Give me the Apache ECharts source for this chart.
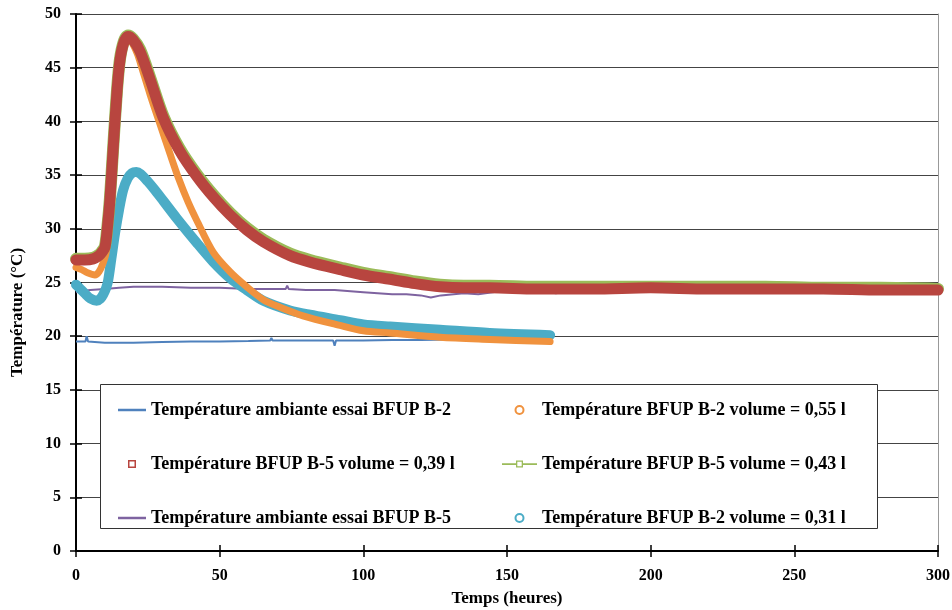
<!DOCTYPE html>
<html>
<head>
<meta charset="utf-8">
<script src="https://cdn.jsdelivr.net/npm/echarts@6/dist/echarts.min.js"></script>
<style>
html, body { margin: 0; padding: 0; background: #fff; }
#chart { width: 952px; height: 610px; }
</style>
</head>
<body>
<div id="chart"></div>
<script>
// données (temps en heures, température en °C)
var ambB2Time = [0, 3.3, 3.7, 4.2, 10, 20, 30, 40, 50, 60, 67.6, 68, 68.4, 80, 89.5, 90, 90.5, 100, 110, 120, 130, 140, 150, 165];
var ambB2Temp = [19.5, 19.5, 20.0, 19.5, 19.4, 19.4, 19.45, 19.5, 19.5, 19.55, 19.6, 19.85, 19.6, 19.6, 19.6, 19.1, 19.6, 19.6, 19.65, 19.65, 19.7, 19.7, 19.7, 19.7];

var ambB5Time = [0, 2, 5, 10, 15, 20, 30, 40, 50, 60, 70, 73, 73.5, 74, 80, 90, 100, 105, 110, 115, 120, 123.5, 127, 135, 140, 145, 151, 160, 167, 175, 190, 210, 230, 244, 255, 270, 290, 300];
var ambB5Temp = [24.1, 24.2, 24.3, 24.4, 24.5, 24.6, 24.6, 24.5, 24.5, 24.4, 24.4, 24.4, 24.7, 24.4, 24.3, 24.3, 24.1, 24.0, 23.9, 23.9, 23.8, 23.6, 23.8, 24.0, 23.9, 24.1, 24.3, 24.3, 24.0, 24.3, 24.4, 24.4, 24.3, 24.1, 24.4, 24.4, 24.1, 24.3];

var b2v055Time = [0, 2, 4, 6.6, 8, 9.4, 10.5, 11.3, 12.2, 13.2, 14.3, 15.3, 16.7, 18.1, 19.8, 21.5, 22.9, 25.8, 29.3, 32.7, 35.7, 39, 42, 47.8, 53.6, 59.4, 65.2, 71, 79, 91.9, 100, 109.3, 126.7, 144, 165];
var b2v055Temp = [26.4, 26.2, 25.9, 25.7, 26.0, 26.8, 27.8, 30.0, 33.5, 37.5, 42.5, 45.3, 47.2, 47.7, 47.2, 46.2, 45.0, 42.5, 39.7, 37.0, 34.7, 32.5, 30.8, 27.8, 26.0, 24.6, 23.4, 22.7, 21.9, 21.0, 20.5, 20.3, 19.9, 19.7, 19.5];

var b5v039Time = [0, 3, 6, 8, 9, 10.1, 11, 11.8, 12.9, 14.3, 15.3, 16.7, 18.1, 19.8, 22.3, 25.8, 30.4, 36, 42, 48, 53.6, 59.4, 65.2, 74.5, 81.4, 91.9, 100, 109.3, 118, 126.7, 135, 144, 160, 180, 200, 220, 240, 260, 280, 300];
var b5v039Temp = [27.1, 27.1, 27.2, 27.5, 27.8, 28.3, 30.3, 32.7, 37.3, 42.9, 45.7, 47.4, 47.9, 47.6, 46.5, 43.9, 40.3, 37.3, 34.9, 32.9, 31.3, 29.9, 28.8, 27.5, 26.9, 26.2, 25.7, 25.3, 24.9, 24.6, 24.5, 24.5, 24.4, 24.4, 24.5, 24.4, 24.4, 24.4, 24.3, 24.3];

var b5v043Time = [0, 3, 6, 8, 9, 10.1, 11, 11.8, 12.9, 14.3, 15.3, 16.7, 18.1, 19.8, 22.3, 25.8, 30.4, 36, 42, 48, 53.6, 59.4, 65.2, 74.5, 81.4, 91.9, 100, 109.3, 118, 126.7, 135, 144, 160, 180, 200, 220, 240, 260, 280, 300];
var b5v043Temp = [27.2, 27.2, 27.3, 27.6, 27.9, 28.4, 30.4, 32.8, 37.4, 43.0, 45.8, 47.5, 48.0, 47.7, 46.7, 44.1, 40.5, 37.5, 35.1, 33.1, 31.5, 30.1, 29.0, 27.7, 27.1, 26.4, 25.9, 25.5, 25.1, 24.8, 24.7, 24.7, 24.6, 24.6, 24.6, 24.6, 24.6, 24.5, 24.5, 24.4];

var b2v031Time = [0, 1.5, 3, 5, 7.2, 8.5, 9.5, 10.5, 11.2, 12.3, 13.6, 15, 16.4, 18, 19.5, 21, 22.5, 25, 27.5, 30.4, 35, 42, 47.8, 53.6, 59.4, 65.2, 74.5, 81.4, 91.9, 100, 109.3, 126.7, 144, 165];
var b2v031Temp = [24.8, 24.4, 24.0, 23.5, 23.3, 23.5, 23.9, 24.5, 25.2, 27.2, 29.6, 31.8, 33.6, 34.7, 35.2, 35.3, 35.1, 34.4, 33.6, 32.6, 31.0, 28.7, 26.9, 25.4, 24.3, 23.3, 22.4, 22.0, 21.5, 21.1, 20.9, 20.6, 20.3, 20.1];

var xTicks = [0, 50, 100, 150, 200, 250, 300];
var yTicks = [0, 5, 10, 15, 20, 25, 30, 35, 40, 45, 50];

var names = [
    'Température ambiante essai BFUP B-2',
    'Température BFUP B-2 volume = 0,55 l',
    'Température BFUP B-5 volume = 0,39 l',
    'Température BFUP B-5 volume = 0,43 l',
    'Température ambiante essai BFUP B-5',
    'Température BFUP B-2 volume = 0,31 l'
];

function pairs(xs, ys) {
    return xs.map(function (x, i) { return [x, ys[i]]; });
}

var chart = echarts.init(document.getElementById('chart'));
var font = 'Liberation Serif';
var lineIcon = 'path://M0,0h28v2.5h-28z';
var rectIcon = 'path://M0,0h8v8h-8z M1.5,1.5v5h5v-5z';
var lineRectIcon = 'path://M0,3h16v-3h8v3h16v2h-16v3h-8v-3h-16z M17.5,1.5v5h5v-5z';

var legendText = { fontFamily: font, fontWeight: 'bold', fontSize: 18, color: '#000', lineHeight: 18 };

var option = {
    animation: false,
    backgroundColor: '#fff',
    grid: { left: 76, right: 14, top: 14, bottom: 59, outerBoundsMode: 'none' },
    graphic: [{
        type: 'rect', z: 3,
        shape: { x: 100.5, y: 384.5, width: 777, height: 144 },
        style: { fill: '#fff', stroke: '#333', lineWidth: 1 }
    }],
    legend: [{
        orient: 'vertical', left: 113, top: 396, z: 5,
        itemWidth: 28, itemHeight: 8, itemGap: 36,
        selectedMode: false,
        textStyle: legendText,
        data: [
            { name: names[0], icon: lineIcon },
            { name: names[2], icon: rectIcon },
            { name: names[4], icon: lineIcon }
        ]
    }, {
        orient: 'vertical', left: 497, top: 396, z: 5,
        itemWidth: 35, itemHeight: 8, itemGap: 36,
        selectedMode: false,
        textStyle: legendText,
        data: [
            { name: names[1], icon: 'emptyCircle' },
            { name: names[3], icon: lineRectIcon },
            { name: names[5], icon: 'emptyCircle' }
        ]
    }],
    xAxis: [{
        type: 'value', min: 0, max: 300, interval: 50,
        name: 'Temps (heures)', nameLocation: 'middle', nameGap: 39,
        nameTextStyle: { fontFamily: font, fontWeight: 'bold', fontSize: 17, color: '#000' },
        axisLine: { lineStyle: { color: '#000', width: 2 } },
        axisTick: { show: true, length: 6, lineStyle: { color: '#000', width: 1.5 } },
        axisLabel: { fontFamily: font, fontWeight: 'bold', fontSize: 16, color: '#000', margin: 17 },
        splitLine: { show: false }
    }, {
        type: 'value', min: 0, max: 300, interval: 50, position: 'bottom',
        axisLine: { show: false },
        axisTick: { show: true, inside: true, length: 6, lineStyle: { color: '#000', width: 1.5 } },
        axisLabel: { show: false },
        splitLine: { show: false }
    }],
    yAxis: [{
        type: 'value', min: 0, max: 50, interval: 5,
        name: 'Température (°C)', nameLocation: 'middle', nameGap: 50,
        nameTextStyle: { fontFamily: font, fontWeight: 'bold', fontSize: 17, color: '#000', padding: [0, 60, 0, 0] },
        axisLine: { show: true, lineStyle: { color: '#000', width: 2 } },
        axisTick: { show: true, length: 6, lineStyle: { color: '#000', width: 1.5 } },
        axisLabel: { fontFamily: font, fontWeight: 'bold', fontSize: 16, color: '#000', margin: 15 },
        splitLine: { show: true, lineStyle: { color: '#444', width: 1 } }
    }, {
        type: 'value', min: 0, max: 50, interval: 5, position: 'left',
        axisLine: { show: false },
        axisTick: { show: true, inside: true, length: 6, lineStyle: { color: '#000', width: 1.5 } },
        axisLabel: { show: false },
        splitLine: { show: false }
    }, {
        type: 'value', min: 0, max: 50, interval: 5, position: 'right',
        axisLine: { show: true, lineStyle: { color: '#999', width: 1 } },
        axisTick: { show: false },
        axisLabel: { show: false },
        splitLine: { show: false }
    }],
    series: [{
        name: names[0], type: 'line', symbol: 'none',
        data: pairs(ambB2Time, ambB2Temp),
        itemStyle: { color: '#4F81BD' },
        lineStyle: { color: '#4F81BD', width: 2 }
    }, {
        name: names[4], type: 'line', symbol: 'none',
        data: pairs(ambB5Time, ambB5Temp),
        itemStyle: { color: '#7E63A0' },
        lineStyle: { color: '#7E63A0', width: 2 }
    }, {
        name: names[5], type: 'line', symbol: 'none', smooth: 0.3,
        data: pairs(b2v031Time, b2v031Temp),
        itemStyle: { color: '#4BACC6' },
        lineStyle: { color: '#4BACC6', width: 10, cap: 'round', join: 'round' }
    }, {
        name: names[1], type: 'line', symbol: 'none', smooth: 0.3,
        data: pairs(b2v055Time, b2v055Temp),
        itemStyle: { color: '#F0923E' },
        lineStyle: { color: '#F0923E', width: 7, cap: 'round', join: 'round' }
    }, {
        name: names[3], type: 'line', symbol: 'none', smooth: 0.3,
        data: pairs(b5v043Time, b5v043Temp),
        itemStyle: { color: '#9BBB59' },
        lineStyle: { color: '#9BBB59', width: 12, cap: 'round', join: 'round' }
    }, {
        name: names[2], type: 'line', symbol: 'none', smooth: 0.3,
        data: pairs(b5v039Time, b5v039Temp),
        itemStyle: { color: '#B8453F' },
        lineStyle: { color: '#B8453F', width: 11, cap: 'round', join: 'round' }
    }]
};

chart.setOption(option);
</script>
</body>
</html>
